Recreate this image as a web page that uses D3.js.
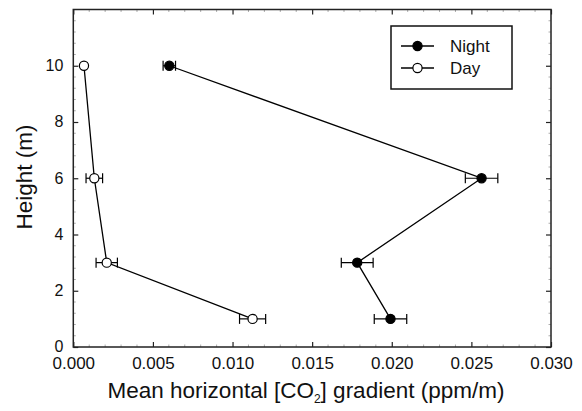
<!DOCTYPE html>
<html><head><meta charset="utf-8">
<script src="https://cdn.jsdelivr.net/npm/d3@7"></script>
<style>
html,body{margin:0;padding:0;background:#fff;}
svg{display:block;font-family:"Liberation Sans",Arial,Helvetica,sans-serif;}
</style></head>
<body>
<svg id="chart" width="582" height="411"></svg>
<script>
const heights = [10, 6, 3, 1];
const nightValues = [0.00603, 0.02564, 0.01783, 0.01992];
const nightErrors = [0.00039, 0.00102, 0.00100, 0.00102];
const dayValues = [0.00067, 0.00132, 0.00210, 0.01126];
const dayErrors = [0.00000, 0.00052, 0.00067, 0.00082];
const xTicks = [0, 0.005, 0.010, 0.015, 0.020, 0.025, 0.030];
const yTicks = [0, 2, 4, 6, 8, 10];
const seriesNames = ["Night", "Day"];

const svg = d3.select("#chart");
const m = {left: 73.3, right: 551, top: 9.5, bottom: 347};
const x = d3.scaleLinear().domain([0, 0.030]).range([m.left, m.right]);
const y = d3.scaleLinear().domain([0, 12]).range([m.bottom, m.top]);

// minor ticks
const minorX = d3.range(0, 0.0301, 0.001).filter(v => Math.abs(v/0.005 - Math.round(v/0.005)) > 1e-6);
const minorY = d3.range(0, 12.01, 0.4).filter(v => Math.abs(v/2 - Math.round(v/2)) > 1e-6);
const g = svg.append("g");
minorX.forEach(v => {
  g.append("line").attr("x1", x(v)).attr("x2", x(v)).attr("y1", m.bottom).attr("y2", m.bottom-2.5).attr("stroke", "#999").attr("stroke-width", 0.8);
  g.append("line").attr("x1", x(v)).attr("x2", x(v)).attr("y1", m.top).attr("y2", m.top+2.5).attr("stroke", "#999").attr("stroke-width", 0.8);
});
minorY.forEach(v => {
  g.append("line").attr("y1", y(v)).attr("y2", y(v)).attr("x1", m.left).attr("x2", m.left+2.5).attr("stroke", "#999").attr("stroke-width", 0.8);
  g.append("line").attr("y1", y(v)).attr("y2", y(v)).attr("x1", m.right).attr("x2", m.right-2.5).attr("stroke", "#999").attr("stroke-width", 0.8);
});

// axes (ticks inward)
const fmt = d3.format(".3f");
const xAxis = svg.append("g").attr("transform", `translate(0,${m.bottom})`)
  .call(d3.axisTop(x).tickValues(xTicks).tickSize(5).tickFormat(""));
const xAxisB = svg.append("g").attr("transform", `translate(0,${m.bottom})`)
  .call(d3.axisBottom(x).tickValues(xTicks).tickSize(0).tickPadding(10).tickFormat(fmt));
xAxisB.selectAll("text").attr("font-size", 17).attr("fill", "#111");
const xTop = svg.append("g").attr("transform", `translate(0,${m.top})`)
  .call(d3.axisBottom(x).tickValues(xTicks).tickSize(5).tickFormat(""));
const yAxis = svg.append("g").attr("transform", `translate(${m.left},0)`)
  .call(d3.axisRight(y).tickValues(yTicks).tickSize(5).tickFormat(""));
const yAxisL = svg.append("g").attr("transform", `translate(${m.left},0)`)
  .call(d3.axisLeft(y).tickValues(yTicks).tickSize(0).tickPadding(10).tickFormat(d3.format("d")));
yAxisL.selectAll("text").attr("font-size", 16).attr("fill", "#111").attr("dy", "0.3em");
const yRight = svg.append("g").attr("transform", `translate(${m.right},0)`)
  .call(d3.axisLeft(y).tickValues(yTicks).tickSize(5).tickFormat(""));
[xAxis, xAxisB, xTop, yAxis, yAxisL, yRight].forEach(a => {
  a.select(".domain").remove();
  a.selectAll("line").attr("stroke", "#222").attr("stroke-width", 1.2);
});
svg.append("rect").attr("x", m.left).attr("y", m.top).attr("width", m.right-m.left).attr("height", m.bottom-m.top)
  .attr("fill", "none").attr("stroke", "#222").attr("stroke-width", 1.5);

// axis titles
svg.append("text").attr("x", 306).attr("y", 398).attr("text-anchor", "middle").attr("font-size", 22.5).attr("fill", "#111")
  .html('Mean horizontal [CO<tspan font-size="12" dy="5">2</tspan><tspan dy="-5">] gradient (ppm/m)</tspan>');
svg.append("text").attr("transform", `translate(31.5,177) rotate(-90)`).attr("text-anchor", "middle")
  .attr("font-size", 22.5).attr("fill", "#111").text("Height (m)");

// series
const series = [
  {name: seriesNames[0], vals: nightValues, errs: nightErrors, fill: "#000"},
  {name: seriesNames[1], vals: dayValues, errs: dayErrors, fill: "#fff"}
];
const line = d3.line().x(d => x(d.v)).y(d => y(d.h));
series.forEach(s => {
  const pts = heights.map((h, i) => ({h, v: s.vals[i], e: s.errs[i]}));
  svg.append("path").datum(pts).attr("d", line).attr("fill", "none").attr("stroke", "#000").attr("stroke-width", 1.3);
  const eb = svg.append("g");
  pts.filter(p => p.e > 0).forEach(p => {
    eb.append("line").attr("x1", x(p.v - p.e)).attr("x2", x(p.v + p.e)).attr("y1", y(p.h)).attr("y2", y(p.h)).attr("stroke", "#000").attr("stroke-width", 1.2);
    [p.v - p.e, p.v + p.e].forEach(v => eb.append("line").attr("x1", x(v)).attr("x2", x(v)).attr("y1", y(p.h)-5).attr("y2", y(p.h)+5).attr("stroke", "#000").attr("stroke-width", 1.2));
  });
  svg.append("g").selectAll("circle").data(pts).join("circle")
    .attr("cx", d => x(d.v)).attr("cy", d => y(d.h)).attr("r", 4.6)
    .attr("fill", s.fill).attr("stroke", "#000").attr("stroke-width", 1.2);
});

// legend
const lg = svg.append("g");
lg.append("rect").attr("x", 391).attr("y", 26).attr("width", 121).attr("height", 63)
  .attr("fill", "#fff").attr("stroke", "#111").attr("stroke-width", 1.5);
series.forEach((s, i) => {
  const ly = 46 + i*22;
  lg.append("line").attr("x1", 401).attr("x2", 434).attr("y1", ly).attr("y2", ly).attr("stroke", "#000").attr("stroke-width", 1.3);
  lg.append("circle").attr("cx", 417.5).attr("cy", ly).attr("r", 4.6).attr("fill", s.fill).attr("stroke", "#000").attr("stroke-width", 1.2);
  lg.append("text").attr("x", 450).attr("y", ly).attr("dy", "0.36em").attr("font-size", 17).attr("fill", "#111").text(s.name);
});
</script>
</body></html>
